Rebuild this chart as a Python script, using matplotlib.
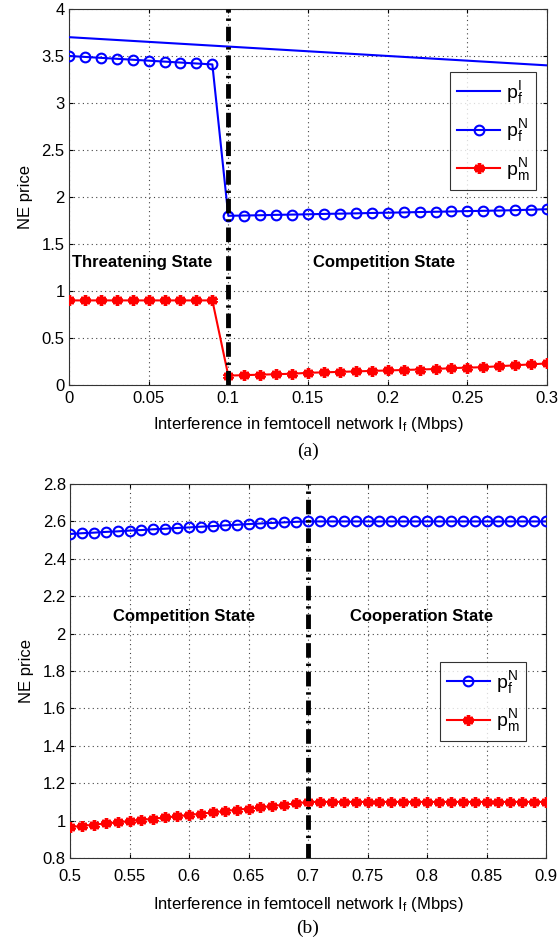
import matplotlib
matplotlib.use("Agg")
import matplotlib.pyplot as plt

plt.rcParams['font.family'] = ['Liberation Sans', 'DejaVu Sans']
plt.rcParams['mathtext.fontset'] = 'custom'
plt.rcParams['mathtext.rm'] = 'Liberation Sans'
plt.rcParams['mathtext.it'] = 'Liberation Sans'

# ---- Panel (a) data ----
a_x = [round(0.01 * i, 2) for i in range(31)]
a_pfI = [3.700, 3.690, 3.680, 3.670, 3.660, 3.650, 3.640, 3.630, 3.620, 3.610,
         3.600, 3.590, 3.580, 3.570, 3.560, 3.550, 3.540, 3.530, 3.520, 3.510,
         3.500, 3.490, 3.480, 3.470, 3.460, 3.450, 3.440, 3.430, 3.420, 3.410, 3.400]
a_pfN = [3.50, 3.49, 3.48, 3.47, 3.46, 3.45, 3.44, 3.43, 3.42, 3.41,
         1.800, 1.803, 1.806, 1.810, 1.813, 1.816, 1.820, 1.823, 1.826, 1.830,
         1.833, 1.836, 1.840, 1.843, 1.846, 1.850, 1.853, 1.856, 1.860, 1.865, 1.870]
a_pmN = [0.90, 0.90, 0.90, 0.90, 0.90, 0.90, 0.90, 0.90, 0.90, 0.90,
         0.100, 0.105, 0.110, 0.115, 0.120, 0.130, 0.135, 0.140, 0.145, 0.150,
         0.155, 0.160, 0.165, 0.170, 0.180, 0.185, 0.190, 0.200, 0.210, 0.220, 0.230]
a_xticks = [0, 0.05, 0.1, 0.15, 0.2, 0.25, 0.3]
a_xticklabels = ['0', '0.05', '0.1', '0.15', '0.2', '0.25', '0.3']
a_yticks = [0, 0.5, 1, 1.5, 2, 2.5, 3, 3.5, 4]
a_yticklabels = ['0', '0.5', '1', '1.5', '2', '2.5', '3', '3.5', '4']
a_split = 0.1

# ---- Panel (b) data ----
b_x = [round(0.5 + 0.01 * i, 2) for i in range(41)]
b_pfN = [2.533, 2.537, 2.540, 2.544, 2.547, 2.551, 2.554, 2.558, 2.561, 2.565,
         2.568, 2.572, 2.575, 2.579, 2.582, 2.586, 2.589, 2.592, 2.595, 2.598,
         2.600] + [2.600] * 20
b_pmN = [0.965, 0.972, 0.978, 0.985, 0.991, 0.997, 1.004, 1.010, 1.017, 1.023,
         1.030, 1.037, 1.044, 1.051, 1.058, 1.064, 1.071, 1.078, 1.085, 1.092,
         1.100] + [1.100] * 20
b_xticks = [0.5, 0.55, 0.6, 0.65, 0.7, 0.75, 0.8, 0.85, 0.9]
b_xticklabels = ['0.5', '0.55', '0.6', '0.65', '0.7', '0.75', '0.8', '0.85', '0.9']
b_yticks = [0.8, 1, 1.2, 1.4, 1.6, 1.8, 2, 2.2, 2.4, 2.6, 2.8]
b_yticklabels = ['0.8', '1', '1.2', '1.4', '1.6', '1.8', '2', '2.2', '2.4', '2.6', '2.8']
b_split = 0.7

xlabel = 'Interference in femtocell network $\\mathregular{I_f}$ (Mbps)'
ylabel = 'NE price'

fig = plt.figure(figsize=(5.6, 9.43), dpi=100)
ax1 = fig.add_axes([0.123, 0.5917, 0.854, 0.3988])
ax2 = fig.add_axes([0.125, 0.0901, 0.850, 0.3966])

blue = '#0000ff'
red = '#ff0000'
star = (6, 2, 0)


def style(ax, xt, xtl, yt, ytl, xlim, ylim, xpad, xlabelpad):
    ax.set_xlim(*xlim)
    ax.set_ylim(*ylim)
    ax.set_xticks(xt)
    ax.set_xticklabels(xtl)
    ax.set_yticks(yt)
    ax.set_yticklabels(ytl)
    ax.grid(True, linestyle=(0, (1, 3)), color='#444444', linewidth=0.8)
    ax.tick_params(direction='in', length=3, labelsize=12, top=True, right=True,
                   labeltop=False, labelright=False, pad=3)
    ax.tick_params(axis='x', pad=xpad)
    for s in ax.spines.values():
        s.set_color('#333333')
        s.set_linewidth(0.8)
    ax.set_xlabel(xlabel, fontsize=12, labelpad=xlabelpad)
    ax.set_ylabel(ylabel, fontsize=12, labelpad=6)


def legend(ax, anchor):
    leg = ax.legend(loc='upper right', bbox_to_anchor=anchor, fontsize=14,
                    frameon=True, fancybox=False, edgecolor='black',
                    handlelength=2.2, handletextpad=0.3, borderpad=0.35,
                    labelspacing=0.6, borderaxespad=0)
    leg.get_frame().set_linewidth(0.8)
    return leg


# Panel (a)
ax1.plot(a_x, a_pfI, color=blue, lw=1.5, label='$\\mathregular{p_f^I}$', zorder=3)
ax1.plot(a_x, a_pfN, color=blue, lw=1.5, marker='o', ms=7, mfc='none', mew=1.5,
         label='$\\mathregular{p_f^N}$', zorder=3)
ax1.plot(a_x, a_pmN, color=red, lw=1.5, marker=star, ms=7.5, mew=2.5, mec=red,
         label='$\\mathregular{p_m^N}$', zorder=3)
ax1.axvline(a_split, color='black', lw=3.5, linestyle=(0, (3, 1.2, 0.5, 1.2)), zorder=4)
style(ax1, a_xticks, a_xticklabels, a_yticks, a_yticklabels, (0, 0.3), (0, 4), 4, 7)
ax1.text(0.002, 1.3, 'Threatening State', fontsize=12, fontweight='bold', va='center')
ax1.text(0.153, 1.3, 'Competition State', fontsize=12, fontweight='bold', va='center')
legend(ax1, ((536 - 69) / 478, (385 - 72) / 376))
fig.text(0.55, 1 - 451 / 943, '(a)', fontsize=14, family='Liberation Serif',
         ha='center', va='center')

# Panel (b)
ax2.plot(b_x, b_pfN, color=blue, lw=1.5, marker='o', ms=7, mfc='none', mew=1.5,
         label='$\\mathregular{p_f^N}$', zorder=3)
ax2.plot(b_x, b_pmN, color=red, lw=1.5, marker=star, ms=7.5, mew=2.5, mec=red,
         label='$\\mathregular{p_m^N}$', zorder=3)
ax2.axvline(b_split, color='black', lw=3.5, linestyle=(0, (3, 1.2, 0.5, 1.2)), zorder=4)
style(ax2, b_xticks, b_xticklabels, b_yticks, b_yticklabels, (0.5, 0.9), (0.8, 2.8), 8, 8)
ax2.text(0.536, 2.094, 'Competition State', fontsize=12, fontweight='bold', va='center')
ax2.text(0.735, 2.094, 'Cooperation State', fontsize=12, fontweight='bold', va='center')
legend(ax2, ((526 - 70) / 476, (858 - 662) / 374))
fig.text(0.55, 1 - 928 / 943, '(b)', fontsize=14, family='Liberation Serif',
         ha='center', va='center')

fig.savefig('out.png', dpi=100, facecolor='white')
